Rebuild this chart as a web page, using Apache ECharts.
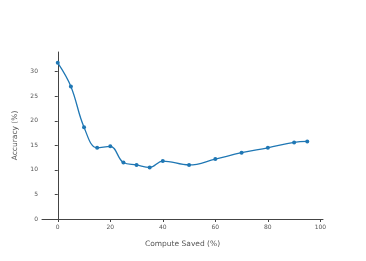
<!DOCTYPE html>
<html><head><meta charset="utf-8">
<script src="https://cdn.jsdelivr.net/npm/echarts@6/dist/echarts.min.js"></script>
<style>html,body{margin:0;padding:0;background:#fff}#c{width:366px;height:261px}</style>
</head><body><div id="c"></div>
<script>
const computeSaved = [0, 5, 10, 15, 20, 25, 30, 35, 40, 50, 60, 70, 80, 90, 95];
const accuracy = [31.8, 27.0, 18.7, 14.5, 14.8, 11.5, 11.0, 10.5, 11.8, 11.0, 12.2, 13.5, 14.5, 15.6, 15.8];
const xTicks = [0, 20, 40, 60, 80, 100];
const yTicks = [0, 5, 10, 15, 20, 25, 30];

const chart = echarts.init(document.getElementById('c'));
const font = 'DejaVu Sans';
chart.setOption({
  animation: false,
  grid: {left: 42, right: 43, top: 52, bottom: 42},
  xAxis: {
    type: 'value', min: -6, max: 101,
    name: 'Compute Saved (%)', nameLocation: 'middle', nameGap: 21,
    nameTextStyle: {fontFamily: font, fontSize: 7.5, color: '#555'},
    axisLine: {show: true, onZero: false, lineStyle: {color: '#444', width: 1}},
    axisTick: {show: true, length: 3, customValues: xTicks, lineStyle: {color: '#444'}},
    axisLabel: {customValues: xTicks, fontFamily: font, fontSize: 6, color: '#555', margin: 5},
    splitLine: {show: false}
  },
  yAxis: {
    type: 'value', min: 0, max: 34,
    name: 'Accuracy (%)', nameLocation: 'middle', nameGap: 22, nameRotate: 90,
    nameTextStyle: {fontFamily: font, fontSize: 7.5, color: '#555'},
    axisLine: {show: true, lineStyle: {color: '#444', width: 1}},
    axisTick: {show: true, length: 3, customValues: yTicks, lineStyle: {color: '#444'}},
    axisLabel: {customValues: yTicks, fontFamily: font, fontSize: 6, color: '#555', margin: 4},
    splitLine: {show: false}
  },
  series: [{
    type: 'line',
    data: computeSaved.map((x, i) => [x, accuracy[i]]),
    smooth: 0.4,
    symbol: 'circle', symbolSize: 4,
    lineStyle: {color: '#1f77b4', width: 1.3},
    itemStyle: {color: '#1f77b4'}
  }]
});
</script></body></html>
